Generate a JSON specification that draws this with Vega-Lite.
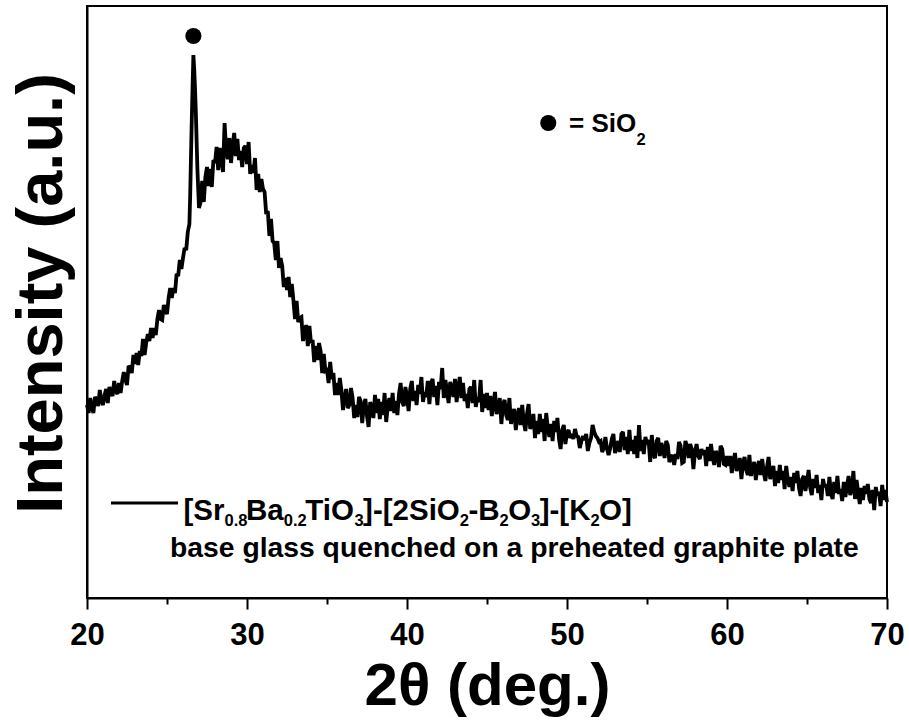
{
"$schema": "https://vega.github.io/schema/vega-lite/v6.json",
"width": 800, "height": 592,
"autosize": {"type": "none"},
"padding": {"left": 87, "top": 6, "right": 22, "bottom": 130},
"background": "white",
"config": {
  "view": {"stroke": "black", "strokeWidth": 2},
  "axis": {"labelFont": "Liberation Sans", "titleFont": "Liberation Sans", "labelColor": "black", "titleColor": "black", "domainColor": "black", "tickColor": "black", "grid": false},
  "text": {"font": "Liberation Sans"}
},
"datasets": {
"xrd": [
{"angle":20.0,"intensity":193},{"angle":20.1,"intensity":185},{"angle":20.2,"intensity":200},{"angle":20.3,"intensity":191},{"angle":20.4,"intensity":185},{"angle":20.5,"intensity":201},{"angle":20.6,"intensity":198},{"angle":20.7,"intensity":192},{"angle":20.8,"intensity":208},{"angle":20.9,"intensity":197},
{"angle":21.0,"intensity":193},{"angle":21.1,"intensity":203},{"angle":21.2,"intensity":209},{"angle":21.3,"intensity":195},{"angle":21.4,"intensity":211},{"angle":21.5,"intensity":206},{"angle":21.6,"intensity":202},{"angle":21.7,"intensity":217},{"angle":21.8,"intensity":207},{"angle":21.9,"intensity":204},
{"angle":22.0,"intensity":215},{"angle":22.1,"intensity":205},{"angle":22.2,"intensity":217},{"angle":22.3,"intensity":226},{"angle":22.4,"intensity":218},{"angle":22.5,"intensity":213},{"angle":22.6,"intensity":232},{"angle":22.7,"intensity":230},{"angle":22.8,"intensity":225},{"angle":22.9,"intensity":243},
{"angle":23.0,"intensity":234},{"angle":23.1,"intensity":245},{"angle":23.2,"intensity":233},{"angle":23.3,"intensity":247},{"angle":23.4,"intensity":242},{"angle":23.5,"intensity":259},{"angle":23.6,"intensity":243},{"angle":23.7,"intensity":255},{"angle":23.8,"intensity":264},{"angle":23.9,"intensity":257},
{"angle":24.0,"intensity":270},{"angle":24.1,"intensity":260},{"angle":24.2,"intensity":270},{"angle":24.3,"intensity":263},{"angle":24.4,"intensity":279},{"angle":24.5,"intensity":288},{"angle":24.6,"intensity":279},{"angle":24.7,"intensity":278},{"angle":24.8,"intensity":293},{"angle":24.9,"intensity":288},
{"angle":25.0,"intensity":284},{"angle":25.1,"intensity":300},{"angle":25.2,"intensity":310},{"angle":25.3,"intensity":300},{"angle":25.4,"intensity":310},{"angle":25.5,"intensity":305},{"angle":25.6,"intensity":324},{"angle":25.7,"intensity":322},{"angle":25.8,"intensity":338},{"angle":25.9,"intensity":329},
{"angle":26.0,"intensity":340},{"angle":26.1,"intensity":350},{"angle":26.2,"intensity":348},{"angle":26.3,"intensity":366},{"angle":26.4,"intensity":374},{"angle":26.45,"intensity":403},{"angle":26.5,"intensity":442},{"angle":26.55,"intensity":479},{"angle":26.6,"intensity":512},{"angle":26.65,"intensity":543},
{"angle":26.7,"intensity":529},{"angle":26.75,"intensity":510},{"angle":26.8,"intensity":487},{"angle":26.9,"intensity":429},{"angle":27.0,"intensity":390},{"angle":27.1,"intensity":396},{"angle":27.2,"intensity":417},{"angle":27.3,"intensity":396},{"angle":27.4,"intensity":421},{"angle":27.5,"intensity":431},
{"angle":27.6,"intensity":412},{"angle":27.7,"intensity":429},{"angle":27.8,"intensity":411},{"angle":27.9,"intensity":438},{"angle":28.0,"intensity":435},{"angle":28.1,"intensity":451},{"angle":28.2,"intensity":428},{"angle":28.3,"intensity":450},{"angle":28.4,"intensity":438},{"angle":28.5,"intensity":426},
{"angle":28.6,"intensity":475},{"angle":28.7,"intensity":446},{"angle":28.8,"intensity":439},{"angle":28.9,"intensity":460},{"angle":29.0,"intensity":435},{"angle":29.1,"intensity":452},{"angle":29.2,"intensity":465},{"angle":29.3,"intensity":442},{"angle":29.4,"intensity":459},{"angle":29.5,"intensity":438},
{"angle":29.6,"intensity":447},{"angle":29.7,"intensity":431},{"angle":29.8,"intensity":450},{"angle":29.9,"intensity":452},{"angle":30.0,"intensity":434},{"angle":30.1,"intensity":456},{"angle":30.2,"intensity":424},{"angle":30.3,"intensity":433},{"angle":30.4,"intensity":425},{"angle":30.5,"intensity":440},
{"angle":30.6,"intensity":408},{"angle":30.7,"intensity":424},{"angle":30.8,"intensity":406},{"angle":30.9,"intensity":419},{"angle":31.0,"intensity":409},{"angle":31.1,"intensity":406},{"angle":31.2,"intensity":384},{"angle":31.3,"intensity":387},{"angle":31.4,"intensity":362},{"angle":31.5,"intensity":379},
{"angle":31.6,"intensity":357},{"angle":31.7,"intensity":355},{"angle":31.8,"intensity":338},{"angle":31.9,"intensity":357},{"angle":32.0,"intensity":330},{"angle":32.1,"intensity":340},{"angle":32.2,"intensity":332},{"angle":32.3,"intensity":311},{"angle":32.4,"intensity":320},{"angle":32.5,"intensity":308},
{"angle":32.6,"intensity":321},{"angle":32.7,"intensity":301},{"angle":32.8,"intensity":314},{"angle":32.9,"intensity":298},{"angle":33.0,"intensity":279},{"angle":33.1,"intensity":297},{"angle":33.2,"intensity":276},{"angle":33.3,"intensity":280},{"angle":33.4,"intensity":281},{"angle":33.5,"intensity":257},
{"angle":33.6,"intensity":265},{"angle":33.7,"intensity":273},{"angle":33.8,"intensity":252},{"angle":33.9,"intensity":272},{"angle":34.0,"intensity":255},{"angle":34.1,"intensity":258},{"angle":34.2,"intensity":236},{"angle":34.3,"intensity":252},{"angle":34.4,"intensity":238},{"angle":34.5,"intensity":255},
{"angle":34.6,"intensity":247},{"angle":34.7,"intensity":225},{"angle":34.8,"intensity":244},{"angle":34.9,"intensity":227},{"angle":35.0,"intensity":228},{"angle":35.1,"intensity":215},{"angle":35.2,"intensity":236},{"angle":35.3,"intensity":219},{"angle":35.4,"intensity":225},{"angle":35.5,"intensity":203},
{"angle":35.6,"intensity":215},{"angle":35.7,"intensity":203},{"angle":35.8,"intensity":220},{"angle":35.9,"intensity":208},{"angle":36.0,"intensity":188},{"angle":36.1,"intensity":200},{"angle":36.2,"intensity":209},{"angle":36.3,"intensity":190},{"angle":36.4,"intensity":193},{"angle":36.5,"intensity":210},
{"angle":36.6,"intensity":200},{"angle":36.7,"intensity":180},{"angle":36.8,"intensity":193},{"angle":36.9,"intensity":181},{"angle":37.0,"intensity":201},{"angle":37.1,"intensity":197},{"angle":37.2,"intensity":175},{"angle":37.3,"intensity":192},{"angle":37.4,"intensity":199},{"angle":37.5,"intensity":182},
{"angle":37.6,"intensity":171},{"angle":37.7,"intensity":196},{"angle":37.8,"intensity":189},{"angle":37.9,"intensity":180},{"angle":38.0,"intensity":203},{"angle":38.1,"intensity":185},{"angle":38.2,"intensity":199},{"angle":38.3,"intensity":179},{"angle":38.4,"intensity":196},{"angle":38.5,"intensity":183},
{"angle":38.6,"intensity":205},{"angle":38.7,"intensity":176},{"angle":38.8,"intensity":192},{"angle":38.9,"intensity":200},{"angle":39.0,"intensity":187},{"angle":39.1,"intensity":205},{"angle":39.2,"intensity":185},{"angle":39.3,"intensity":197},{"angle":39.4,"intensity":183},{"angle":39.5,"intensity":204},
{"angle":39.6,"intensity":215},{"angle":39.7,"intensity":196},{"angle":39.8,"intensity":192},{"angle":39.9,"intensity":211},{"angle":40.0,"intensity":201},{"angle":40.1,"intensity":187},{"angle":40.2,"intensity":209},{"angle":40.3,"intensity":217},{"angle":40.4,"intensity":197},{"angle":40.5,"intensity":207},
{"angle":40.6,"intensity":193},{"angle":40.7,"intensity":213},{"angle":40.8,"intensity":204},{"angle":40.9,"intensity":221},{"angle":41.0,"intensity":196},{"angle":41.1,"intensity":206},{"angle":41.2,"intensity":201},{"angle":41.3,"intensity":217},{"angle":41.4,"intensity":194},{"angle":41.5,"intensity":215},
{"angle":41.6,"intensity":219},{"angle":41.7,"intensity":201},{"angle":41.8,"intensity":212},{"angle":41.9,"intensity":193},{"angle":42.0,"intensity":216},{"angle":42.1,"intensity":209},{"angle":42.2,"intensity":230},{"angle":42.3,"intensity":200},{"angle":42.4,"intensity":218},{"angle":42.5,"intensity":207},
{"angle":42.6,"intensity":195},{"angle":42.7,"intensity":216},{"angle":42.8,"intensity":210},{"angle":42.9,"intensity":201},{"angle":43.0,"intensity":219},{"angle":43.1,"intensity":196},{"angle":43.2,"intensity":210},{"angle":43.3,"intensity":221},{"angle":43.4,"intensity":200},{"angle":43.5,"intensity":215},
{"angle":43.6,"intensity":197},{"angle":43.7,"intensity":204},{"angle":43.8,"intensity":190},{"angle":43.9,"intensity":209},{"angle":44.0,"intensity":211},{"angle":44.1,"intensity":195},{"angle":44.2,"intensity":218},{"angle":44.3,"intensity":191},{"angle":44.4,"intensity":201},{"angle":44.5,"intensity":196},
{"angle":44.6,"intensity":218},{"angle":44.7,"intensity":186},{"angle":44.8,"intensity":204},{"angle":44.9,"intensity":190},{"angle":45.0,"intensity":205},{"angle":45.1,"intensity":188},{"angle":45.2,"intensity":202},{"angle":45.3,"intensity":182},{"angle":45.4,"intensity":195},{"angle":45.5,"intensity":206},
{"angle":45.6,"intensity":184},{"angle":45.7,"intensity":189},{"angle":45.8,"intensity":200},{"angle":45.9,"intensity":174},{"angle":46.0,"intensity":194},{"angle":46.1,"intensity":198},{"angle":46.2,"intensity":183},{"angle":46.3,"intensity":178},{"angle":46.4,"intensity":200},{"angle":46.5,"intensity":174},
{"angle":46.6,"intensity":183},{"angle":46.7,"intensity":189},{"angle":46.8,"intensity":168},{"angle":46.9,"intensity":182},{"angle":47.0,"intensity":190},{"angle":47.1,"intensity":173},{"angle":47.2,"intensity":193},{"angle":47.3,"intensity":176},{"angle":47.4,"intensity":167},{"angle":47.5,"intensity":184},
{"angle":47.6,"intensity":194},{"angle":47.7,"intensity":169},{"angle":47.8,"intensity":175},{"angle":47.9,"intensity":184},{"angle":48.0,"intensity":160},{"angle":48.1,"intensity":177},{"angle":48.2,"intensity":164},{"angle":48.3,"intensity":184},{"angle":48.4,"intensity":166},{"angle":48.5,"intensity":179},
{"angle":48.6,"intensity":157},{"angle":48.7,"intensity":185},{"angle":48.8,"intensity":170},{"angle":48.9,"intensity":161},{"angle":49.0,"intensity":174},{"angle":49.1,"intensity":157},{"angle":49.2,"intensity":177},{"angle":49.3,"intensity":166},{"angle":49.4,"intensity":180},{"angle":49.5,"intensity":159},
{"angle":49.6,"intensity":149},{"angle":49.7,"intensity":168},{"angle":49.8,"intensity":173},{"angle":49.9,"intensity":154},{"angle":50.0,"intensity":165},{"angle":50.1,"intensity":168},{"angle":50.2,"intensity":160},{"angle":50.3,"intensity":164},{"angle":50.4,"intensity":159},{"angle":50.5,"intensity":169},
{"angle":50.6,"intensity":162},{"angle":50.7,"intensity":161},{"angle":50.8,"intensity":150},{"angle":50.9,"intensity":157},{"angle":51.0,"intensity":162},{"angle":51.1,"intensity":158},{"angle":51.2,"intensity":164},{"angle":51.3,"intensity":147},{"angle":51.4,"intensity":155},{"angle":51.5,"intensity":160},
{"angle":51.6,"intensity":173},{"angle":51.7,"intensity":166},{"angle":51.8,"intensity":162},{"angle":51.9,"intensity":160},{"angle":52.0,"intensity":156},{"angle":52.1,"intensity":157},{"angle":52.2,"intensity":146},{"angle":52.3,"intensity":150},{"angle":52.4,"intensity":161},{"angle":52.5,"intensity":149},
{"angle":52.6,"intensity":143},{"angle":52.7,"intensity":150},{"angle":52.8,"intensity":159},{"angle":52.9,"intensity":164},{"angle":53.0,"intensity":145},{"angle":53.1,"intensity":150},{"angle":53.2,"intensity":157},{"angle":53.3,"intensity":146},{"angle":53.4,"intensity":164},{"angle":53.5,"intensity":166},
{"angle":53.6,"intensity":148},{"angle":53.7,"intensity":161},{"angle":53.8,"intensity":144},{"angle":53.9,"intensity":168},{"angle":54.0,"intensity":147},{"angle":54.1,"intensity":158},{"angle":54.2,"intensity":144},{"angle":54.3,"intensity":162},{"angle":54.4,"intensity":140},{"angle":54.5,"intensity":173},
{"angle":54.6,"intensity":147},{"angle":54.7,"intensity":158},{"angle":54.8,"intensity":144},{"angle":54.9,"intensity":161},{"angle":55.0,"intensity":154},{"angle":55.1,"intensity":158},{"angle":55.2,"intensity":136},{"angle":55.3,"intensity":163},{"angle":55.4,"intensity":143},{"angle":55.5,"intensity":140},
{"angle":55.6,"intensity":157},{"angle":55.7,"intensity":160},{"angle":55.8,"intensity":142},{"angle":55.9,"intensity":155},{"angle":56.0,"intensity":148},{"angle":56.1,"intensity":140},{"angle":56.2,"intensity":157},{"angle":56.3,"intensity":153},{"angle":56.4,"intensity":136},{"angle":56.5,"intensity":140},
{"angle":56.6,"intensity":143},{"angle":56.7,"intensity":133},{"angle":56.8,"intensity":144},{"angle":56.9,"intensity":139},{"angle":57.0,"intensity":156},{"angle":57.1,"intensity":152},{"angle":57.2,"intensity":135},{"angle":57.3,"intensity":136},{"angle":57.4,"intensity":157},{"angle":57.5,"intensity":152},
{"angle":57.6,"intensity":140},{"angle":57.7,"intensity":154},{"angle":57.8,"intensity":149},{"angle":57.9,"intensity":129},{"angle":58.0,"intensity":146},{"angle":58.1,"intensity":154},{"angle":58.2,"intensity":142},{"angle":58.3,"intensity":139},{"angle":58.4,"intensity":149},{"angle":58.5,"intensity":143},
{"angle":58.6,"intensity":148},{"angle":58.7,"intensity":132},{"angle":58.8,"intensity":151},{"angle":58.9,"intensity":137},{"angle":59.0,"intensity":154},{"angle":59.1,"intensity":141},{"angle":59.2,"intensity":133},{"angle":59.3,"intensity":147},{"angle":59.4,"intensity":143},{"angle":59.5,"intensity":131},
{"angle":59.6,"intensity":152},{"angle":59.7,"intensity":149},{"angle":59.8,"intensity":134},{"angle":59.9,"intensity":133},{"angle":60.0,"intensity":142},{"angle":60.1,"intensity":132},{"angle":60.2,"intensity":142},{"angle":60.3,"intensity":125},{"angle":60.4,"intensity":137},{"angle":60.5,"intensity":145},
{"angle":60.6,"intensity":127},{"angle":60.7,"intensity":132},{"angle":60.8,"intensity":140},{"angle":60.9,"intensity":119},{"angle":61.0,"intensity":135},{"angle":61.1,"intensity":141},{"angle":61.2,"intensity":128},{"angle":61.3,"intensity":123},{"angle":61.4,"intensity":143},{"angle":61.5,"intensity":122},
{"angle":61.6,"intensity":130},{"angle":61.7,"intensity":136},{"angle":61.8,"intensity":118},{"angle":61.9,"intensity":130},{"angle":62.0,"intensity":137},{"angle":62.1,"intensity":123},{"angle":62.2,"intensity":139},{"angle":62.3,"intensity":125},{"angle":62.4,"intensity":117},{"angle":62.5,"intensity":131},
{"angle":62.6,"intensity":141},{"angle":62.7,"intensity":119},{"angle":62.8,"intensity":125},{"angle":62.9,"intensity":132},{"angle":63.0,"intensity":112},{"angle":63.1,"intensity":127},{"angle":63.2,"intensity":115},{"angle":63.3,"intensity":133},{"angle":63.4,"intensity":118},{"angle":63.5,"intensity":127},
{"angle":63.6,"intensity":109},{"angle":63.7,"intensity":132},{"angle":63.8,"intensity":119},{"angle":63.9,"intensity":111},{"angle":64.0,"intensity":121},{"angle":64.1,"intensity":107},{"angle":64.2,"intensity":125},{"angle":64.3,"intensity":115},{"angle":64.4,"intensity":127},{"angle":64.5,"intensity":110},
{"angle":64.6,"intensity":102},{"angle":64.7,"intensity":119},{"angle":64.8,"intensity":122},{"angle":64.9,"intensity":107},{"angle":65.0,"intensity":116},{"angle":65.1,"intensity":128},{"angle":65.2,"intensity":110},{"angle":65.3,"intensity":103},{"angle":65.4,"intensity":119},{"angle":65.5,"intensity":110},
{"angle":65.6,"intensity":123},{"angle":65.7,"intensity":105},{"angle":65.8,"intensity":113},{"angle":65.9,"intensity":98},{"angle":66.0,"intensity":119},{"angle":66.1,"intensity":111},{"angle":66.2,"intensity":114},{"angle":66.3,"intensity":102},{"angle":66.4,"intensity":121},{"angle":66.5,"intensity":104},
{"angle":66.6,"intensity":99},{"angle":66.7,"intensity":116},{"angle":66.8,"intensity":105},{"angle":66.9,"intensity":122},{"angle":67.0,"intensity":104},{"angle":67.1,"intensity":109},{"angle":67.2,"intensity":97},{"angle":67.3,"intensity":116},{"angle":67.4,"intensity":101},{"angle":67.5,"intensity":112},
{"angle":67.6,"intensity":122},{"angle":67.7,"intensity":103},{"angle":67.8,"intensity":108},{"angle":67.9,"intensity":127},{"angle":68.0,"intensity":99},{"angle":68.1,"intensity":118},{"angle":68.2,"intensity":105},{"angle":68.3,"intensity":94},{"angle":68.4,"intensity":110},{"angle":68.5,"intensity":98},
{"angle":68.6,"intensity":112},{"angle":68.7,"intensity":104},{"angle":68.8,"intensity":114},{"angle":68.9,"intensity":99},{"angle":69.0,"intensity":95},{"angle":69.1,"intensity":108},{"angle":69.2,"intensity":88},{"angle":69.3,"intensity":111},{"angle":69.4,"intensity":102},{"angle":69.5,"intensity":106},
{"angle":69.6,"intensity":92},{"angle":69.7,"intensity":113},{"angle":69.8,"intensity":98},{"angle":69.9,"intensity":108},{"angle":70.0,"intensity":96}
],
"dots": [{"angle":26.65,"intensity":562},{"angle":48.83,"intensity":475}],
"legendline": [{"start":21.5,"end":25.69,"level":95}],
"formula": [
{"angle":26.031,"intensity":78,"label":"[Sr"},
{"angle":29.939,"intensity":78,"label":"Ba"},
{"angle":33.643,"intensity":78,"label":"TiO"},
{"angle":37.255,"intensity":78,"label":"]-[2SiO"},
{"angle":43.838,"intensity":78,"label":"-B"},
{"angle":46.321,"intensity":78,"label":"O"},
{"angle":48.294,"intensity":78,"label":"]-[K"},
{"angle":52.006,"intensity":78,"label":"O]"}
],
"formulasub": [
{"angle":28.593,"intensity":72,"label":"0.8"},
{"angle":32.296,"intensity":72,"label":"0.2"},
{"angle":36.716,"intensity":72,"label":"3"},
{"angle":43.299,"intensity":72,"label":"2"},
{"angle":45.783,"intensity":72,"label":"2"},
{"angle":47.756,"intensity":72,"label":"3"},
{"angle":51.468,"intensity":72,"label":"2"}
],
"caption": [{"angle":25.19,"intensity":41,"label":"base glass quenched on a preheated graphite plate"}],
"key": [{"angle":50.125,"intensity":466,"label":"= SiO"}],
"keysub": [{"angle":54.344,"intensity":453,"label":"2"}]
},
"layer": [
{
  "data": {"name": "xrd"},
  "mark": {"type": "line", "color": "black", "strokeWidth": 3.8, "strokeJoin": "miter", "strokeMiterLimit": 2},
  "encoding": {
    "x": {"field": "angle", "type": "quantitative", "scale": {"domain": [20, 70], "nice": false, "zero": false},
      "axis": {"values": [20, 25, 30, 35, 40, 45, 50, 55, 60, 65, 70],
        "tickSize": {"condition": {"test": "datum.value % 10 === 0", "value": 11}, "value": 6},
        "labelExpr": "datum.value % 10 === 0 ? datum.label : ''",
        "tickWidth": 2, "domainWidth": 2, "labelFontSize": 31, "labelFontWeight": "bold", "labelPadding": 11, "labelFlush": false, "labelOverlap": false,
        "title": "2θ (deg.)", "titleFontSize": 60, "titleFontWeight": "bold", "titlePadding": 7}},
    "y": {"field": "intensity", "type": "quantitative", "scale": {"domain": [0, 592], "nice": false},
      "axis": {"ticks": false, "labels": false, "domainWidth": 2, "title": "Intensity (a.u.)", "titleFontSize": 65, "titleFontWeight": "bold", "titlePadding": 12, "titleY": 287}}
  }
},
{
  "data": {"name": "dots"},
  "mark": {"type": "point", "shape": "circle", "filled": true, "color": "black", "size": 260, "opacity": 1},
  "encoding": {
    "x": {"field": "angle", "type": "quantitative"},
    "y": {"field": "intensity", "type": "quantitative"}
  }
},
{
  "data": {"name": "legendline"},
  "mark": {"type": "rule", "color": "black", "strokeWidth": 3},
  "encoding": {
    "x": {"field": "start", "type": "quantitative"},
    "x2": {"field": "end"},
    "y": {"field": "level", "type": "quantitative"}
  }
},
{
  "data": {"name": "formula"},
  "mark": {"type": "text", "align": "left", "baseline": "alphabetic", "fontSize": 29.5, "fontWeight": "bold", "color": "black"},
  "encoding": {
    "x": {"field": "angle", "type": "quantitative"},
    "y": {"field": "intensity", "type": "quantitative"},
    "text": {"field": "label"}
  }
},
{
  "data": {"name": "formulasub"},
  "mark": {"type": "text", "align": "left", "baseline": "alphabetic", "fontSize": 16.5, "fontWeight": "bold", "color": "black"},
  "encoding": {
    "x": {"field": "angle", "type": "quantitative"},
    "y": {"field": "intensity", "type": "quantitative"},
    "text": {"field": "label"}
  }
},
{
  "data": {"name": "caption"},
  "mark": {"type": "text", "align": "left", "baseline": "alphabetic", "fontSize": 28.3, "fontWeight": "bold", "color": "black"},
  "encoding": {
    "x": {"field": "angle", "type": "quantitative"},
    "y": {"field": "intensity", "type": "quantitative"},
    "text": {"field": "label"}
  }
},
{
  "data": {"name": "key"},
  "mark": {"type": "text", "align": "left", "baseline": "alphabetic", "fontSize": 26, "fontWeight": "bold", "color": "black"},
  "encoding": {
    "x": {"field": "angle", "type": "quantitative"},
    "y": {"field": "intensity", "type": "quantitative"},
    "text": {"field": "label"}
  }
},
{
  "data": {"name": "keysub"},
  "mark": {"type": "text", "align": "left", "baseline": "alphabetic", "fontSize": 16.5, "fontWeight": "bold", "color": "black"},
  "encoding": {
    "x": {"field": "angle", "type": "quantitative"},
    "y": {"field": "intensity", "type": "quantitative"},
    "text": {"field": "label"}
  }
}
]
}
